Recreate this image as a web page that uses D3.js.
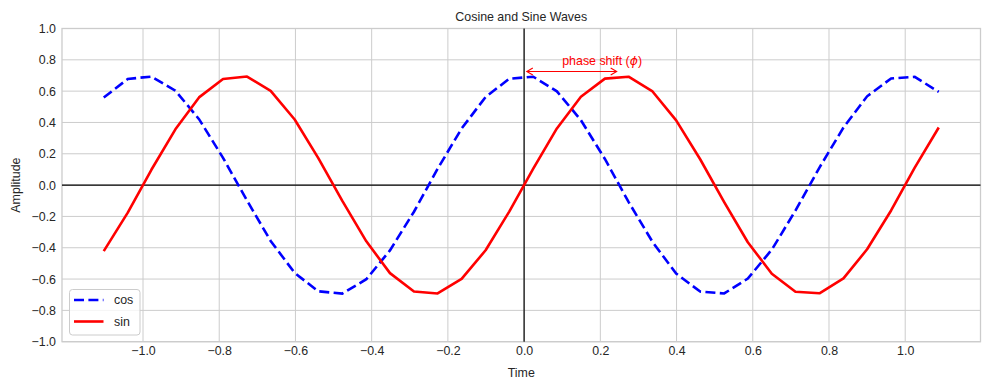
<!DOCTYPE html>
<html>
<head>
<meta charset="utf-8">
<script src="https://cdn.jsdelivr.net/npm/d3@7"></script>
<style>
  body { margin: 0; background: #fff; }
  text { font-family: "Liberation Sans", Arial, sans-serif; fill: #262626; }
</style>
</head>
<body>
<div id="chart"></div>
<script>
// sample times
const time = [-1.103, -1.040, -0.978, -0.915, -0.853, -0.790, -0.727, -0.665, -0.602, -0.540,
              -0.477, -0.414, -0.352, -0.289, -0.227, -0.164, -0.101, -0.039, 0.024, 0.086,
              0.149, 0.212, 0.274, 0.337, 0.399, 0.462, 0.525, 0.587, 0.650, 0.712,
              0.775, 0.838, 0.900, 0.963, 1.025, 1.088];
const cosValues = [0.559, 0.678, 0.693, 0.603, 0.421, 0.174, -0.099, -0.357, -0.561, -0.678,
                   -0.693, -0.601, -0.417, -0.170, 0.104, 0.361, 0.563, 0.679, 0.692, 0.599,
                   0.415, 0.167, -0.107, -0.363, -0.565, -0.680, -0.692, -0.597, -0.412, -0.163,
                   0.112, 0.368, 0.567, 0.681, 0.691, 0.595];
const sinValues = [-0.422, -0.176, 0.098, 0.356, 0.560, 0.678, 0.693, 0.602, 0.419, 0.172,
                   -0.101, -0.359, -0.562, -0.679, -0.692, -0.599, -0.416, -0.169, 0.105, 0.362,
                   0.564, 0.680, 0.692, 0.598, 0.413, 0.165, -0.108, -0.365, -0.566, -0.681,
                   -0.691, -0.596, -0.410, -0.162, 0.112, 0.368];
const xTicks = [-1.0, -0.8, -0.6, -0.4, -0.2, 0.0, 0.2, 0.4, 0.6, 0.8, 1.0];
const yTicks = [-1.0, -0.8, -0.6, -0.4, -0.2, 0.0, 0.2, 0.4, 0.6, 0.8, 1.0];
const seriesNames = ["cos", "sin"];
const seriesColors = ["#0000ff", "#ff0000"];
const annotation = { label: "phase shift (", symbol: "\u03d5", from: 0.0, to: 0.25, y: 0.725, textX: 0.1, textY: 0.77 };

const width = 989, height = 390;
const plot = { left: 62, right: 980.5, top: 28.5, bottom: 341.7 };
const fontSize = 12.4;

const svg = d3.select("#chart").append("svg")
    .attr("width", width).attr("height", height);

// matplotlib style 5% padding around the data range
const ext = d3.extent(time);
const pad = (ext[1] - ext[0]) * 0.05;
const x = d3.scaleLinear().domain([ext[0] - pad, ext[1] + pad]).range([plot.left, plot.right]);
const y = d3.scaleLinear().domain([-1, 1]).range([plot.bottom, plot.top]);

// grid
const grid = svg.append("g").attr("class", "grid");
grid.selectAll(".vgrid").data(xTicks).join("line")
    .attr("x1", d => x(d)).attr("x2", d => x(d))
    .attr("y1", plot.top).attr("y2", plot.bottom)
    .attr("stroke", "#cccccc").attr("stroke-width", 1);
grid.selectAll(".hgrid").data(yTicks).join("line")
    .attr("y1", d => y(d)).attr("y2", d => y(d))
    .attr("x1", plot.left).attr("x2", plot.right)
    .attr("stroke", "#cccccc").attr("stroke-width", 1);

// frame
svg.append("rect")
    .attr("x", plot.left).attr("y", plot.top)
    .attr("width", plot.right - plot.left).attr("height", plot.bottom - plot.top)
    .attr("fill", "none").attr("stroke", "#cccccc").attr("stroke-width", 1.3);

// axes through origin
svg.append("line")
    .attr("x1", plot.left).attr("x2", plot.right)
    .attr("y1", y(0)).attr("y2", y(0))
    .attr("stroke", "#000").attr("stroke-width", 1.2);
svg.append("line")
    .attr("x1", x(0)).attr("x2", x(0))
    .attr("y1", plot.top).attr("y2", plot.bottom)
    .attr("stroke", "#000").attr("stroke-width", 1.2);

// tick labels via d3 axes with no tick lines
const fmt = d => d3.format(".1f")(d).replace("-", "\u2212");
const xAxis = svg.append("g")
    .attr("transform", `translate(0,${plot.bottom})`)
    .call(d3.axisBottom(x).tickValues(xTicks).tickFormat(fmt).tickSize(0).tickPadding(5));
const yAxis = svg.append("g")
    .attr("transform", `translate(${plot.left},0)`)
    .call(d3.axisLeft(y).tickValues(yTicks).tickFormat(fmt).tickSize(0).tickPadding(6));
[xAxis, yAxis].forEach(a => {
    a.select(".domain").remove();
    a.selectAll("text").attr("font-size", fontSize).attr("fill", "#262626")
        .attr("font-family", "Liberation Sans, Arial, sans-serif");
});

// lines
const line = d3.line().x((d, i) => x(time[i])).y(d => y(d));
svg.append("path").datum(cosValues)
    .attr("d", line).attr("fill", "none")
    .attr("stroke", seriesColors[0]).attr("stroke-width", 2.6)
    .attr("stroke-dasharray", "10,4.4");
svg.append("path").datum(sinValues)
    .attr("d", line).attr("fill", "none")
    .attr("stroke", seriesColors[1]).attr("stroke-width", 2.6)
    .attr("stroke-linejoin", "round");

// annotation: double headed arrow + label
const ay = y(annotation.y);
const ax0 = x(annotation.from) + 2.7, ax1 = x(annotation.to) - 2.7;
const arrow = svg.append("g").attr("stroke", "#ff0000").attr("stroke-width", 1.1).attr("fill", "none");
arrow.append("path").attr("d", `M${ax0},${ay}L${ax1},${ay}`);
arrow.append("path").attr("d", `M${ax0 + 6},${ay - 3.5}L${ax0},${ay}L${ax0 + 6},${ay + 3.5}`);
arrow.append("path").attr("d", `M${ax1 - 6},${ay - 3.5}L${ax1},${ay}L${ax1 - 6},${ay + 3.5}`);
const at = svg.append("text")
    .attr("x", x(annotation.textX)).attr("y", y(annotation.textY))
    .attr("font-size", fontSize).style("fill", "#ff0000");
at.append("tspan").text(annotation.label);
at.append("tspan").attr("font-style", "italic").attr("font-family", "DejaVu Sans").text(annotation.symbol);
at.append("tspan").text(")");

// title and axis labels
svg.append("text").attr("x", (plot.left + plot.right) / 2).attr("y", 21)
    .attr("text-anchor", "middle").attr("font-size", fontSize).text("Cosine and Sine Waves");
svg.append("text").attr("x", (plot.left + plot.right) / 2).attr("y", 377)
    .attr("text-anchor", "middle").attr("font-size", fontSize).text("Time");
svg.append("text")
    .attr("transform", `translate(20,${(plot.top + plot.bottom) / 2}) rotate(-90)`)
    .attr("text-anchor", "middle").attr("font-size", fontSize).text("Amplitude");

// legend
const legend = svg.append("g").attr("transform", "translate(69.5,289.5)");
legend.append("rect").attr("width", 70.5).attr("height", 45.5).attr("rx", 3)
    .attr("fill", "#fff").attr("fill-opacity", 0.8)
    .attr("stroke", "#cccccc").attr("stroke-width", 1);
seriesNames.forEach((name, i) => {
    const ly = 10.5 + i * 21.5;
    legend.append("line")
        .attr("x1", 4.5).attr("x2", 34).attr("y1", ly).attr("y2", ly)
        .attr("stroke", seriesColors[i]).attr("stroke-width", 2.6)
        .attr("stroke-dasharray", i === 0 ? "10,4.4" : null);
    legend.append("text").attr("x", 44.5).attr("y", ly + 4.3)
        .attr("font-size", fontSize).text(name);
});
</script>
</body>
</html>
